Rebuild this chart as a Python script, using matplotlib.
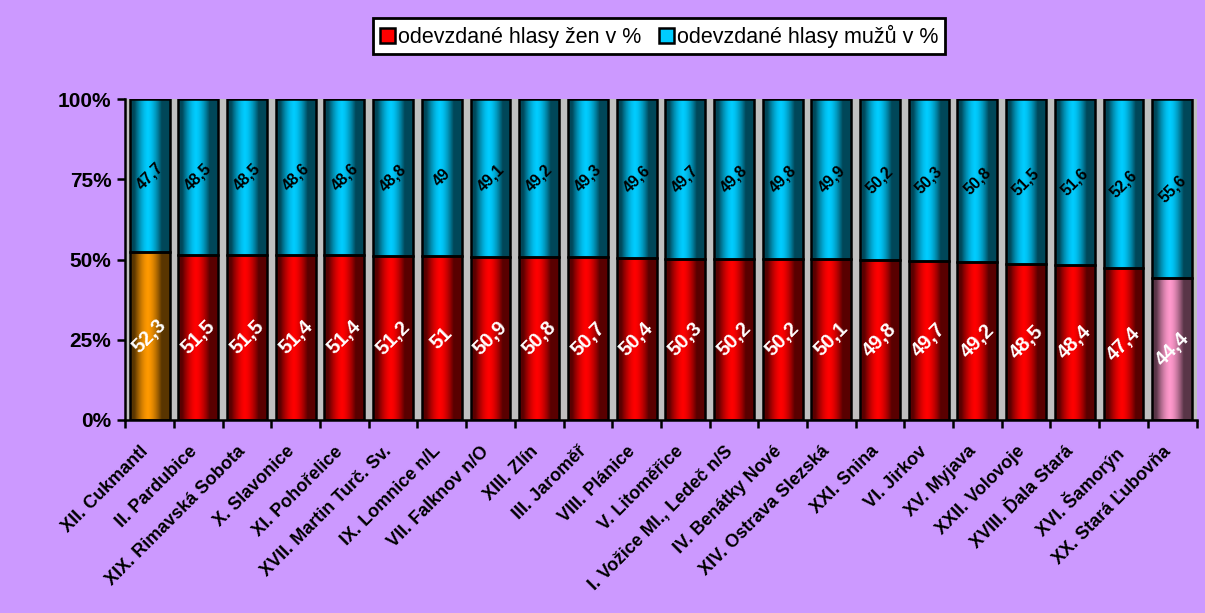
import numpy as np
import matplotlib
matplotlib.use("Agg")
from matplotlib import pyplot as plt
from matplotlib.patches import Rectangle
from matplotlib.transforms import ScaledTranslation

plt.rcParams['font.family'] = ['Liberation Sans', 'DejaVu Sans']

okrsky = ["XII. Cukmantl", "II. Pardubice", "XIX. Rimavská Sobota", "X. Slavonice",
          "XI. Pohořelice", "XVII. Martin Turč. Sv.", "IX. Lomnice n/L", "VII. Falknov n/O",
          "XIII. Zlín", "III. Jaroměř", "VIII. Plánice", "V. Litoměřice",
          "I. Vožice Ml., Ledeč n/S", "IV. Benátky Nové", "XIV. Ostrava Slezská",
          "XXI. Snina", "VI. Jirkov", "XV. Myjava", "XXII. Volovoje",
          "XVIII. Ďala Stará", "XVI. Šamorýn", "XX. Stará Ľubovňa"]
zeny = [52.3, 51.5, 51.5, 51.4, 51.4, 51.2, 51, 50.9, 50.8, 50.7, 50.4,
        50.3, 50.2, 50.2, 50.1, 49.8, 49.7, 49.2, 48.5, 48.4, 47.4, 44.4]
muzi = [47.7, 48.5, 48.5, 48.6, 48.6, 48.8, 49, 49.1, 49.2, 49.3, 49.6,
        49.7, 49.8, 49.8, 49.9, 50.2, 50.3, 50.8, 51.5, 51.6, 52.6, 55.6]

RED = '#FF0000'
CYAN = '#00CCFF'
zeny_barvy = [RED] * len(zeny)
zeny_barvy[0] = '#FF9900'
zeny_barvy[-1] = '#FF99CC'


def fmt(v):
    return ('%g' % v).replace('.', ',')


def gradient_bar(ax, x, bottom, height, width, color):
    # vodorovny prechod: tmave okraje, svetly stred
    rgb = np.array(matplotlib.colors.to_rgb(color))
    t = np.linspace(0, 1, 64)
    f = np.clip(1 - 1.6 * np.abs(t - 0.45) ** 1.6 * 2.2, 0.35, 1)
    img = (f[:, None] * rgb[None, :])[None, :, :]
    x0 = x - width / 2
    im = ax.imshow(img, extent=(x0, x0 + width, bottom, bottom + height),
                   aspect='auto', zorder=2, interpolation='bilinear')
    r = Rectangle((x0, bottom), width, height, facecolor='none',
                  edgecolor='black', linewidth=1.8, zorder=3)
    ax.add_patch(r)
    im.set_clip_path(r)


fig = plt.figure(figsize=(12.05, 6.13), dpi=100, facecolor='#CC99FF')
ax = fig.add_axes([0.104, 0.315, 0.889, 0.523])
ax.set_facecolor('#C0C0C0')

x = np.arange(len(okrsky))
w = 0.82
for i in x:
    z = zeny[i] / (zeny[i] + muzi[i]) * 100
    m = 100 - z
    gradient_bar(ax, i, 0, z, w, zeny_barvy[i])
    gradient_bar(ax, i, z, m, w, CYAN)
    ax.text(i, z / 2, fmt(zeny[i]), rotation=45, ha='center', va='center',
            color='white', fontsize=14.5, fontweight='bold', zorder=4)
    ax.text(i, z + m / 2, fmt(muzi[i]), rotation=45, ha='center', va='center',
            color='black', fontsize=11.5, fontweight='bold', zorder=4)

ax.set_xlim(-0.5, len(okrsky) - 0.5)
ax.set_ylim(0, 100)
ax.set_yticks([0, 25, 50, 75, 100])
ax.set_yticklabels(['0%', '25%', '50%', '75%', '100%'], fontsize=15, fontweight='bold')

# popisky kategorii jako samostatne texty (posunute pod osu)
ax.set_xticks([])
off = ScaledTranslation(-10 / 100, -23 / 100, fig.dpi_scale_trans)
for i, nazev in zip(x, okrsky):
    ax.text(i, 0, nazev, rotation=45, ha='right', va='top', rotation_mode='anchor',
            fontsize=13, fontweight='bold', transform=ax.get_xaxis_transform() + off,
            clip_on=False)

ax.set_xticks(np.arange(len(okrsky) + 1) - 0.5, minor=True)
ax.tick_params(axis='x', which='minor', length=6, width=1.8, direction='out')
ax.tick_params(axis='y', length=6, width=1.8, direction='out', pad=4)
for s in ['top', 'right']:
    ax.spines[s].set_visible(False)
for s in ['left', 'bottom']:
    ax.spines[s].set_linewidth(1.8)

h1 = Rectangle((0, 0), 1, 1, facecolor=RED, edgecolor='black', linewidth=1.8)
h2 = Rectangle((0, 0), 1, 1, facecolor=CYAN, edgecolor='black', linewidth=1.8)
leg = fig.legend([h1, h2], ['odevzdané hlasy žen v %', 'odevzdané hlasy mužů v %'],
                 loc='center', bbox_to_anchor=(0.547, 0.941), ncol=2, fontsize=15.5,
                 frameon=True, fancybox=False, edgecolor='black', framealpha=1,
                 handlelength=0.7, handleheight=0.7, handletextpad=0.15,
                 columnspacing=0.8, borderpad=0.3, borderaxespad=0)
leg.get_frame().set_linewidth(2)

fig.savefig('out.png', dpi=100, facecolor=fig.get_facecolor())
